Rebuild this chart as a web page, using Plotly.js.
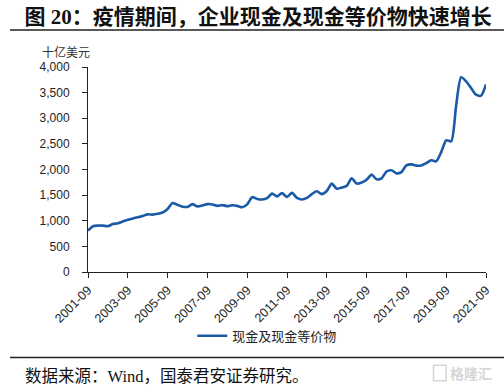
<!DOCTYPE html>
<html>
<head>
<meta charset="utf-8">
<script src="https://cdn.plot.ly/plotly-3.0.1.min.js"></script>
<style>html,body{margin:0;padding:0;background:#fff;}#chart{width:504px;height:386px;}</style>
</head>
<body>
<div id="chart"></div>
<script>
const quarters = [
 "2001-09","2001-12","2002-03","2002-06","2002-09","2002-12","2003-03","2003-06",
 "2003-09","2003-12","2004-03","2004-06","2004-09","2004-12","2005-03","2005-06",
 "2005-09","2005-12","2006-03","2006-06","2006-09","2006-12","2007-03","2007-06",
 "2007-09","2007-12","2008-03","2008-06","2008-09","2008-12","2009-03","2009-06",
 "2009-09","2009-12","2010-03","2010-06","2010-09","2010-12","2011-03","2011-06",
 "2011-09","2011-12","2012-03","2012-06","2012-09","2012-12","2013-03","2013-06",
 "2013-09","2013-12","2014-03","2014-06","2014-09","2014-12","2015-03","2015-06",
 "2015-09","2015-12","2016-03","2016-06","2016-09","2016-12","2017-03","2017-06",
 "2017-09","2017-12","2018-03","2018-06","2018-09","2018-12","2019-03","2019-06",
 "2019-09","2019-12","2020-03","2020-06","2020-09","2020-12","2021-03","2021-06",
 "2021-09"
];
const cashValues = [
 810, 893, 905, 905, 893, 935, 950, 985,
 1020, 1045, 1068, 1094, 1125, 1120, 1135, 1160,
 1230, 1345, 1310, 1275, 1270, 1325, 1280, 1300,
 1325, 1318, 1290, 1305, 1285, 1303, 1290, 1265,
 1320, 1460, 1425, 1415, 1440, 1530, 1475, 1540,
 1466, 1544, 1446, 1415, 1445, 1520, 1575, 1520,
 1580, 1725, 1625, 1650, 1680, 1830, 1725, 1745,
 1800, 1900, 1810, 1825, 1960, 1985, 1925, 1950,
 2080, 2100, 2075, 2080, 2125, 2180, 2160, 2340,
 2570, 2550, 3250, 3800, 3720, 3590, 3460, 3440,
 3660
];
const xTickVals = ["2001-09","2003-09","2005-09","2007-09","2009-09","2011-09","2013-09","2015-09","2017-09","2019-09","2021-09"];
const yTickVals = [0, 500, 1000, 1500, 2000, 2500, 3000, 3500, 4000];
const seriesName = "现金及现金等价物";
const titleText = "图 20：疫情期间，企业现金及现金等价物快速增长";
const unitText = "十亿美元";
const sourceText = "数据来源：Wind，国泰君安证券研究。";

const sans = "Liberation Sans, Arial, Noto Sans CJK SC, sans-serif";
const cjk = "Liberation Serif, Noto Sans CJK SC, serif";

const trace = {
  x: quarters, y: cashValues, type: "scatter", mode: "lines", name: seriesName,
  line: {color: "#1a5aa6", width: 2.6, shape: "spline", smoothing: 0.7}
};

const layout = {
  width: 504, height: 386,
  margin: {l: 88, r: 18, t: 67, b: 114},
  paper_bgcolor: "#fff", plot_bgcolor: "#fff",
  showlegend: true,
  title: {text: "<b>" + titleText + "</b>", x: 0.512, xref: "container", xanchor: "center",
          y: 0.956, yref: "container", yanchor: "middle",
          font: {family: cjk, size: 21, color: "#111"}},
  xaxis: {type: "category", range: [0, 80], tickmode: "array", tickvals: xTickVals, ticktext: xTickVals,
          tickangle: -45, ticks: "outside", ticklen: 5, tickcolor: "#222", showline: true,
          linecolor: "#222", linewidth: 1, showgrid: false, zeroline: false,
          tickfont: {family: sans, size: 12.5, color: "#222"}},
  yaxis: {range: [0, 4000], tickmode: "array", tickvals: yTickVals, tickformat: ",",
          ticks: "outside", ticklen: 5, tickcolor: "#222", showline: true, linecolor: "#222",
          linewidth: 1, showgrid: false, zeroline: false, ticklabelstandoff: 10,
          tickfont: {family: sans, size: 12, color: "#222"}},
  legend: {orientation: "h", x: 0.262, xanchor: "left", y: -0.311, yanchor: "middle",
           font: {family: cjk, size: 13, color: "#222"}, bgcolor: "rgba(0,0,0,0)"},
  shapes: [
    {type: "line", xref: "paper", yref: "paper", x0: -0.196, x1: 1.046, y0: 1.1805, y1: 1.1805,
     line: {color: "#222", width: 1.5}},
    {type: "line", xref: "paper", yref: "paper", x0: -0.196, x1: 1.046, y0: -0.417, y1: -0.417,
     line: {color: "#222", width: 1.5}},
    {type: "rect", xref: "paper", yref: "paper", x0: 0.868, x1: 0.9, y0: -0.455, y1: -0.53,
     line: {color: "#d6d6d6", width: 1.5}}
  ],
  annotations: [
    {text: unitText, xref: "paper", yref: "paper", x: -0.1206, y: 1.073, xanchor: "left", yanchor: "middle",
     showarrow: false, font: {family: cjk, size: 12, color: "#333"}},
    {text: sourceText, xref: "paper", yref: "paper", x: -0.163, y: -0.512, xanchor: "left", yanchor: "middle",
     showarrow: false, font: {family: cjk, size: 16.5, color: "#111"}},
    {text: "<b>格隆汇</b>", xref: "paper", yref: "paper", x: 0.905, y: -0.493, xanchor: "left", yanchor: "middle",
     showarrow: false, font: {family: "Noto Sans CJK SC, sans-serif", size: 14, color: "#d6d6d6"}}
  ]
};

Plotly.newPlot("chart", [trace], layout, {displayModeBar: false, staticPlot: true});
</script>
</body>
</html>
